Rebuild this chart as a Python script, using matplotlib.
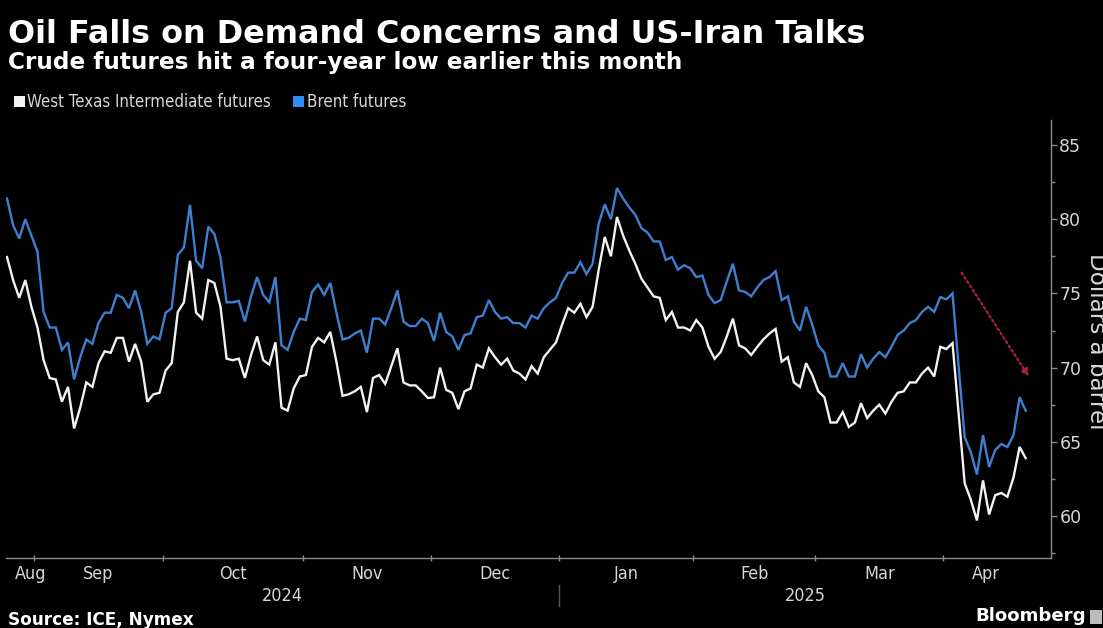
import numpy as np
import pandas as pd
import matplotlib
matplotlib.use("Agg")
import matplotlib.pyplot as plt
from matplotlib import font_manager as fm
from matplotlib.transforms import blended_transform_factory
from matplotlib.patches import Rectangle
from matplotlib.lines import Line2D

# ---------------- data ----------------
skip = {"2024-12-25", "2025-01-01", "2025-04-18"}
dates = [d for d in pd.bdate_range("2024-08-26", "2025-04-21") if d.strftime("%Y-%m-%d") not in skip]

wti = [
    77.45, 75.9, 74.7, 75.9, 74.1, 72.7, 70.5, 69.3, 69.2, 67.7,
    68.7, 65.9, 67.3, 69.0, 68.7, 70.3, 71.1, 71.0, 72.0, 72.0,
    70.4, 71.6, 70.4, 67.7, 68.2, 68.3, 69.8, 70.3, 73.75, 74.4,
    77.2, 73.7, 73.3, 75.9, 75.7, 74.1, 70.6, 70.5, 70.6, 69.3,
    70.85, 72.1, 70.5, 70.2, 71.7, 67.3, 67.1, 68.6, 69.4, 69.5,
    71.4, 72.0, 71.7, 72.4, 70.4, 68.1, 68.2, 68.4, 68.7, 67.0,
    69.3, 69.5, 68.9, 70.1, 71.3, 69.0, 68.8, 68.8, 68.4, 67.95,
    68.0, 70.0, 68.5, 68.3, 67.2, 68.4, 68.6, 70.2, 70.0, 71.3,
    70.7, 70.2, 70.6, 69.8, 69.6, 69.2, 70.1, 69.6, 70.7, 71.2,
    71.7, 72.9, 74.0, 73.7, 74.3, 73.4, 74.1, 76.6, 78.8, 77.5,
    80.15, 78.9, 77.9, 77.0, 76.0, 75.4, 74.8, 74.7, 73.2, 73.75,
    72.7, 72.7, 72.5, 73.2, 72.7, 71.4, 70.6, 71.05, 72.1, 73.3,
    71.5, 71.3, 70.85, 71.4, 71.9, 72.3, 72.6, 70.4, 70.7, 69.0,
    68.7, 70.3, 69.5, 68.4, 68.0, 66.3, 66.3, 67.0, 66.0, 66.3,
    67.6, 66.6, 67.1, 67.5, 66.9, 67.7, 68.3, 68.4, 69.0, 69.0,
    69.6, 70.0, 69.4, 71.4, 71.25, 71.65, 66.9, 62.2, 61.1, 59.7,
    62.4, 60.1, 61.4, 61.55, 61.3, 62.6, 64.65, 63.9,
]

brent = [
    81.4, 79.6, 78.7, 80.0, 78.9, 77.8, 73.75, 72.7, 72.7, 71.2,
    71.7, 69.2, 70.7, 71.9, 71.6, 73.0, 73.7, 73.7, 74.9, 74.7,
    74.0, 75.2, 73.75, 71.6, 72.1, 71.9, 73.7, 74.0, 77.6, 78.1,
    80.96, 77.2, 76.7, 79.5, 79.0, 77.4, 74.4, 74.4, 74.5, 73.1,
    74.8, 76.1, 74.9, 74.4, 76.1, 71.5, 71.2, 72.4, 73.3, 73.2,
    75.1, 75.6, 74.9, 75.7, 73.7, 71.9, 72.0, 72.3, 72.5, 71.0,
    73.3, 73.3, 72.9, 74.0, 75.2, 73.1, 72.8, 72.8, 73.3, 73.0,
    71.8, 73.7, 72.4, 72.1, 71.2, 72.2, 72.3, 73.4, 73.5, 74.55,
    73.75, 73.3, 73.4, 73.0, 73.0, 72.7, 73.5, 73.3, 74.0, 74.4,
    74.7, 75.7, 76.4, 76.4, 77.1, 76.3, 77.0, 79.7, 81.0, 80.0,
    82.1, 81.4, 80.8, 80.3, 79.4, 79.1, 78.5, 78.5, 77.25, 77.45,
    76.6, 76.9, 76.7, 76.1, 76.2, 74.9, 74.35, 74.55, 75.8, 77.0,
    75.2, 75.1, 74.8, 75.4, 75.9, 76.1, 76.5, 74.55, 74.8, 73.1,
    72.5, 74.1, 72.9, 71.5, 71.0, 69.4, 69.4, 70.3, 69.4, 69.4,
    70.9, 70.0, 70.6, 71.05, 70.7, 71.4, 72.2, 72.5, 73.0, 73.2,
    73.75, 74.1, 73.75, 74.75, 74.6, 75.0, 70.1, 65.3, 64.3, 62.8,
    65.45, 63.3, 64.45, 64.85, 64.65, 65.45, 68.0, 67.1,
]

series_names = ["West Texas Intermediate futures", "Brent futures"]
y_ticks = [60, 65, 70, 75, 80, 85]
title = "Oil Falls on Demand Concerns and US-Iran Talks"
subtitle = "Crude futures hit a four-year low earlier this month"
source = "Source: ICE, Nymex"
ylabel = "Dollars a barrel"

# ---------------- style ----------------
W_PX, H_PX = 1103, 628
BG = "#000000"
WTI_C = "#f2f2f2"
BRENT_C = "#3f7fd0"
LEG_BLUE = "#2f8cf0"
AX_C = "#8a8a8a"
TXT_C = "#d6d6d6"

# pick a condensed face for the axis labels if one is installed
fonts = fm.fontManager.ttflist
cond = None
for f in fonts:
    if f.name == "DejaVu Sans" and str(f.stretch) in ("condensed", "semi-condensed") and f.weight in (400, "normal", "regular"):
        cond = ("DejaVu Sans", "condensed")
        break
if cond is None:
    names = {f.name for f in fonts}
    for nm in ("Liberation Sans Narrow", "Roboto Condensed", "Open Sans Condensed", "Noto Sans Condensed"):
        if nm in names:
            cond = (nm, "normal")
            break
if cond is None:
    cond = ("DejaVu Sans", "normal")
    month_w = 31
else:
    month_w = 28
COND_FAM, COND_STRETCH = cond

fig = plt.figure(figsize=(W_PX / 100, H_PX / 100), dpi=100, facecolor=BG)
ax_l, ax_r, ax_t, ax_b = 6, 1051, 120, 558
ax = fig.add_axes([ax_l / W_PX, 1 - ax_b / H_PX, (ax_r - ax_l) / W_PX, (ax_b - ax_t) / H_PX])
ax.set_facecolor(BG)

x = np.arange(len(dates))
ax.plot(x, wti, color=WTI_C, lw=1.7, solid_joinstyle="miter", zorder=3)
ax.plot(x, brent, color=BRENT_C, lw=1.7, solid_joinstyle="miter", zorder=3)

px_per_day = 6.1
x0_px = 7
ax.set_xlim((ax_l - x0_px) / px_per_day, (ax_r - x0_px) / px_per_day)
yscale = 14.84
ax.set_ylim(85 - (ax_b - 145) / yscale, 85 + (145 - ax_t) / yscale)

for s in ("top", "left"):
    ax.spines[s].set_visible(False)
for s in ("bottom", "right"):
    ax.spines[s].set_color(AX_C)
    ax.spines[s].set_linewidth(1.0)

# y axis on the right
ax.yaxis.tick_right()
ax.set_yticks(y_ticks)
ax.set_yticks(np.arange(57.5, 86, 5), minor=True)
ax.tick_params(axis="y", which="major", colors=AX_C, length=4, width=1, pad=2,
               labelcolor=TXT_C, labelsize=12.5)
ax.tick_params(axis="y", which="minor", colors=AX_C, length=3, width=1)

# x axis: month boundaries and month labels
months = [d.month for d in dates]
bounds = [i - 0.5 for i in range(1, len(dates)) if months[i] != months[i - 1]]
ax.set_xticks(bounds)
ax.set_xticklabels([])
ax.tick_params(axis="x", which="major", colors=AX_C, length=5, width=1, direction="inout")

edges = [-0.5] + bounds + [len(dates) - 0.5]
month_lbls = []
month_names = []
centers = []
for k in range(len(edges) - 1):
    i = int(np.ceil(edges[k]))
    month_names.append(dates[min(max(i, 0), len(dates) - 1)].strftime("%b"))
    centers.append((edges[k] + edges[k + 1]) / 2)
centers[0] = 3.8  # first (partial) month label shifted right to fit

trans = blended_transform_factory(ax.transData, fig.transFigure)
for c, m in zip(centers, month_names):
    t = ax.text(c, 1 - 574 / H_PX, m, transform=trans, ha="center", va="center",
                color=TXT_C, fontsize=14, family=COND_FAM, fontstretch=COND_STRETCH, clip_on=False)
    month_lbls.append(t)

# year labels
jan_b = [b for b in bounds if dates[int(b + 0.5)].month == 1][0]
xl = ax.get_xlim()
year_lbls = []
for c, yr in (((xl[0] + jan_b) / 2, "2024"), ((jan_b + xl[1]) / 2, "2025")):
    year_lbls.append(ax.text(c, 1 - 596 / H_PX, yr, transform=trans, ha="center", va="center",
                             color=TXT_C, fontsize=14, family=COND_FAM, fontstretch=COND_STRETCH,
                             clip_on=False))
fig.add_artist(Line2D([jan_b, jan_b], [1 - 585 / H_PX, 1 - 606 / H_PX], transform=trans,
                      color="#555555", lw=1))

# annotation arrow (red dotted)
ax.annotate("", xy=(167.5, 69.4), xytext=(156.5, 76.4),
            arrowprops=dict(arrowstyle="-|>", color="#a8223c", lw=1.6,
                            linestyle=(0, (1, 1.3)), mutation_scale=11,
                            shrinkA=0, shrinkB=0), zorder=4)

# ---------------- texts ----------------
def fx(px):
    return px / W_PX

def fy(px):
    return 1 - px / H_PX

t_title = fig.text(fx(8), fy(43), title, color="white", fontsize=21, fontweight="bold",
                   family="DejaVu Sans", ha="left", va="baseline")
t_sub = fig.text(fx(8), fy(69), subtitle, color="white", fontsize=14, fontweight="bold",
                 family="DejaVu Sans", ha="left", va="baseline")
t_leg1 = fig.text(fx(27), fy(107), series_names[0], color=TXT_C, fontsize=10.5,
                  family=COND_FAM, fontstretch=COND_STRETCH, ha="left", va="baseline")
t_leg2 = fig.text(fx(307), fy(107), series_names[1], color=TXT_C, fontsize=10.5,
                  family=COND_FAM, fontstretch=COND_STRETCH, ha="left", va="baseline")
fig.add_artist(Rectangle((fx(14), fy(107)), 11 / W_PX, 11 / H_PX, transform=fig.transFigure,
                         facecolor=WTI_C, edgecolor="none"))
fig.add_artist(Rectangle((fx(293), fy(107)), 11 / W_PX, 11 / H_PX, transform=fig.transFigure,
                         facecolor=LEG_BLUE, edgecolor="none"))
t_src = fig.text(fx(8), fy(620), source, color="white", fontsize=11, fontweight="bold",
                 family="DejaVu Sans", ha="left", va="center")
t_bb = fig.text(fx(975), fy(616), "Bloomberg", color="white", fontsize=13, fontweight="bold",
                family="DejaVu Sans", ha="left", va="center")
fig.add_artist(Rectangle((fx(1090), fy(624)), 12 / W_PX, 14 / H_PX, transform=fig.transFigure,
                         facecolor="#bdbdbd", edgecolor="none"))
t_yl = fig.text(fx(1085), fy(341), ylabel, color=TXT_C, fontsize=14, rotation=270,
                family="DejaVu Sans", ha="left", va="center")

# width fitting of text to the reference
fig.canvas.draw()
r = fig.canvas.get_renderer()

def fit(t, target, horizontal=True):
    bb = t.get_window_extent(renderer=r)
    w = bb.width if horizontal else bb.height
    t.set_fontsize(t.get_fontsize() * target / w)

fit(t_title, 858)
fit(t_sub, 676)
fit(t_leg1, 246)
fit(t_leg2, 100)
fit(t_src, 185)
fit(t_bb, 110)
fit(t_yl, 177, horizontal=False)
oct_lbl = month_lbls[month_names.index("Oct")]
bb = oct_lbl.get_window_extent(renderer=r)
fs = oct_lbl.get_fontsize() * month_w / bb.width
for t in month_lbls + year_lbls:
    t.set_fontsize(fs)

fig.savefig("out.png", dpi=100, facecolor=BG)
